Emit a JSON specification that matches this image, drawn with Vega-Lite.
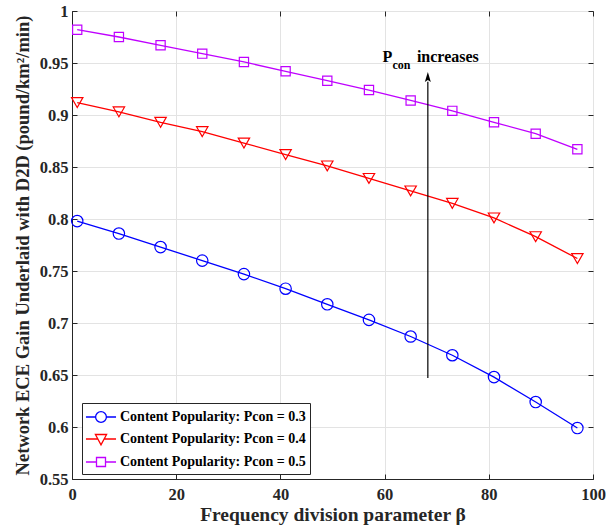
{
  "$schema": "https://vega.github.io/schema/vega-lite/v6.json",
  "width": 521,
  "height": 468,
  "autosize": {"type": "none"},
  "padding": {"left": 72, "top": 11, "right": 15, "bottom": 50},
  "background": "white",
  "config": {
    "font": "Liberation Serif",
    "view": {"stroke": "#262626", "strokeWidth": 1},
    "axis": {
      "labelFont": "Liberation Serif", "labelFontWeight": "bold", "labelFontSize": 16.5, "labelColor": "#262626", "labelFlush": false,
      "titleFont": "Liberation Serif", "titleFontWeight": "bold", "titleFontSize": 18.5, "titleColor": "#262626",
      "gridColor": "#e3e3e3", "domainColor": "#262626", "tickColor": "#262626", "tickSize": -5
    }
  },
  "datasets": {
    "gain": [
      {"beta": 1, "gain": 0.798, "p": "0.3"}, {"beta": 9, "gain": 0.786, "p": "0.3"}, {"beta": 17, "gain": 0.773, "p": "0.3"},
      {"beta": 25, "gain": 0.760, "p": "0.3"}, {"beta": 33, "gain": 0.747, "p": "0.3"}, {"beta": 41, "gain": 0.733, "p": "0.3"},
      {"beta": 49, "gain": 0.718, "p": "0.3"}, {"beta": 57, "gain": 0.703, "p": "0.3"}, {"beta": 65, "gain": 0.687, "p": "0.3"},
      {"beta": 73, "gain": 0.669, "p": "0.3"}, {"beta": 81, "gain": 0.648, "p": "0.3"}, {"beta": 89, "gain": 0.624, "p": "0.3"},
      {"beta": 97, "gain": 0.599, "p": "0.3"},
      {"beta": 1, "gain": 0.912, "p": "0.4"}, {"beta": 9, "gain": 0.903, "p": "0.4"}, {"beta": 17, "gain": 0.893, "p": "0.4"},
      {"beta": 25, "gain": 0.884, "p": "0.4"}, {"beta": 33, "gain": 0.873, "p": "0.4"}, {"beta": 41, "gain": 0.862, "p": "0.4"},
      {"beta": 49, "gain": 0.851, "p": "0.4"}, {"beta": 57, "gain": 0.839, "p": "0.4"}, {"beta": 65, "gain": 0.827, "p": "0.4"},
      {"beta": 73, "gain": 0.815, "p": "0.4"}, {"beta": 81, "gain": 0.801, "p": "0.4"}, {"beta": 89, "gain": 0.783, "p": "0.4"},
      {"beta": 97, "gain": 0.762, "p": "0.4"},
      {"beta": 1, "gain": 0.982, "p": "0.5"}, {"beta": 9, "gain": 0.975, "p": "0.5"}, {"beta": 17, "gain": 0.967, "p": "0.5"},
      {"beta": 25, "gain": 0.959, "p": "0.5"}, {"beta": 33, "gain": 0.951, "p": "0.5"}, {"beta": 41, "gain": 0.942, "p": "0.5"},
      {"beta": 49, "gain": 0.933, "p": "0.5"}, {"beta": 57, "gain": 0.924, "p": "0.5"}, {"beta": 65, "gain": 0.914, "p": "0.5"},
      {"beta": 73, "gain": 0.904, "p": "0.5"}, {"beta": 81, "gain": 0.893, "p": "0.5"}, {"beta": 89, "gain": 0.882, "p": "0.5"},
      {"beta": 97, "gain": 0.867, "p": "0.5"}
    ]
  },
  "layer": [
    {
      "data": {"name": "gain"},
      "mark": {"type": "line", "strokeWidth": 1.3},
      "encoding": {
        "x": {"field": "beta", "type": "quantitative", "scale": {"domain": [0, 100], "nice": false},
              "axis": {"orient": "bottom", "values": [0, 20, 40, 60, 80, 100], "title": "Frequency division parameter β", "titleFontSize": 19.5, "grid": true, "labelPadding": 12, "titlePadding": 3}},
        "y": {"field": "gain", "type": "quantitative", "scale": {"domain": [0.55, 1], "nice": false, "zero": false},
              "axis": {"orient": "left", "values": [0.55, 0.6, 0.65, 0.7, 0.75, 0.8, 0.85, 0.9, 0.95, 1], "format": ".2~f", "title": "Network ECE Gain Underlaid with D2D (pound/km²/min)", "grid": true, "labelPadding": 9, "titlePadding": 7}},
        "color": {"field": "p", "type": "nominal",
                  "scale": {"domain": ["0.3", "0.4", "0.5"], "range": ["#0000ff", "#ff0000", "#bf00ff"]},
                  "legend": {
                    "title": null, "orient": "none", "legendX": 10, "legendY": 392,
                    "strokeColor": "#262626", "fillColor": "white", "padding": 4,
                    "labelFont": "Liberation Serif", "labelFontWeight": "bold", "labelFontSize": 14, "labelColor": "#000000", "labelLimit": 400,
                    "labelExpr": "'Content Popularity: Pcon = ' + datum.label",
                    "symbolSize": 324, "rowPadding": 4, "symbolOffset": 5, "labelOffset": 9,
                    "encode": {"symbols": {"update": {
                      "shape": {"signal": "datum.value === '0.3' ? 'M-1.67,0L-0.6,0M0.6,0L1.67,0M-0.6,0A0.6,0.6 0 1,1 0.6,0A0.6,0.6 0 1,1 -0.6,0' : datum.value === '0.4' ? 'M-1.67,0L-0.3,0M0.3,0L1.67,0M-0.62,-0.5L0.62,-0.5L0,0.65Z' : 'M-1.67,0L-0.5,0M0.5,0L1.67,0M-0.5,-0.5L0.5,-0.5L0.5,0.5L-0.5,0.5Z'"},
                      "fill": {"value": "transparent"},
                      "strokeWidth": {"value": 1.3}
                    }}}
                  }}
      }
    },
    {
      "data": {"name": "gain"},
      "transform": [{"filter": "datum.p === '0.3'"}],
      "mark": {"type": "point", "filled": false, "shape": "circle", "size": 130, "strokeWidth": 1.2, "opacity": 1},
      "encoding": {
        "x": {"field": "beta", "type": "quantitative", "axis": null},
        "y": {"field": "gain", "type": "quantitative", "axis": null},
        "color": {"field": "p", "type": "nominal"}
      }
    },
    {
      "data": {"name": "gain"},
      "transform": [{"filter": "datum.p === '0.4'"}],
      "mark": {"type": "point", "filled": false, "shape": "triangle-down", "size": 130, "strokeWidth": 1.2, "opacity": 1},
      "encoding": {
        "x": {"field": "beta", "type": "quantitative", "axis": null},
        "y": {"field": "gain", "type": "quantitative", "axis": null},
        "color": {"field": "p", "type": "nominal"}
      }
    },
    {
      "data": {"name": "gain"},
      "transform": [{"filter": "datum.p === '0.5'"}],
      "mark": {"type": "point", "filled": false, "shape": "square", "size": 85, "strokeWidth": 1.2, "opacity": 1},
      "encoding": {
        "x": {"field": "beta", "type": "quantitative", "axis": null},
        "y": {"field": "gain", "type": "quantitative", "axis": null},
        "color": {"field": "p", "type": "nominal"}
      }
    },
    {
      "data": {"values": [{"label": "arrow"}]},
      "mark": {"type": "rule", "color": "#000000", "strokeWidth": 1.2},
      "encoding": {
        "x": {"datum": 68.3, "type": "quantitative",
              "axis": {"orient": "top", "labels": false, "grid": false, "title": null, "domain": false, "values": [0, 20, 40, 60, 80, 100]}},
        "y": {"datum": 0.647, "type": "quantitative",
              "axis": {"orient": "right", "labels": false, "grid": false, "title": null, "domain": false, "values": [0.55, 0.6, 0.65, 0.7, 0.75, 0.8, 0.85, 0.9, 0.95, 1]}},
        "y2": {"datum": 0.932}
      }
    },
    {
      "data": {"values": [{"label": "arrowhead"}]},
      "mark": {"type": "point", "filled": true, "color": "#000000", "opacity": 1, "size": 100, "shape": "M0,-1L-0.6,1L0,0.6L0.6,1Z"},
      "encoding": {
        "x": {"datum": 68.3, "type": "quantitative", "axis": null},
        "y": {"datum": 0.9365, "type": "quantitative", "axis": null}
      }
    },
    {
      "data": {"values": [{"label": "P"}]},
      "mark": {"type": "text", "align": "left", "baseline": "middle", "font": "Liberation Serif", "fontWeight": "bold", "fontSize": 16, "color": "#000000"},
      "encoding": {
        "x": {"datum": 59.6, "type": "quantitative", "axis": null},
        "y": {"datum": 0.9558, "type": "quantitative", "axis": null},
        "text": {"field": "label"}
      }
    },
    {
      "data": {"values": [{"label": "con"}]},
      "mark": {"type": "text", "align": "left", "baseline": "middle", "font": "Liberation Serif", "fontWeight": "bold", "fontSize": 12, "color": "#000000"},
      "encoding": {
        "x": {"datum": 61.5, "type": "quantitative", "axis": null},
        "y": {"datum": 0.948, "type": "quantitative", "axis": null},
        "text": {"field": "label"}
      }
    },
    {
      "data": {"values": [{"label": "increases"}]},
      "mark": {"type": "text", "align": "left", "baseline": "middle", "font": "Liberation Serif", "fontWeight": "bold", "fontSize": 16, "color": "#000000"},
      "encoding": {
        "x": {"datum": 66.2, "type": "quantitative", "axis": null},
        "y": {"datum": 0.9558, "type": "quantitative", "axis": null},
        "text": {"field": "label"}
      }
    }
  ],
  "resolve": {"axis": {"x": "independent", "y": "independent"}}
}
